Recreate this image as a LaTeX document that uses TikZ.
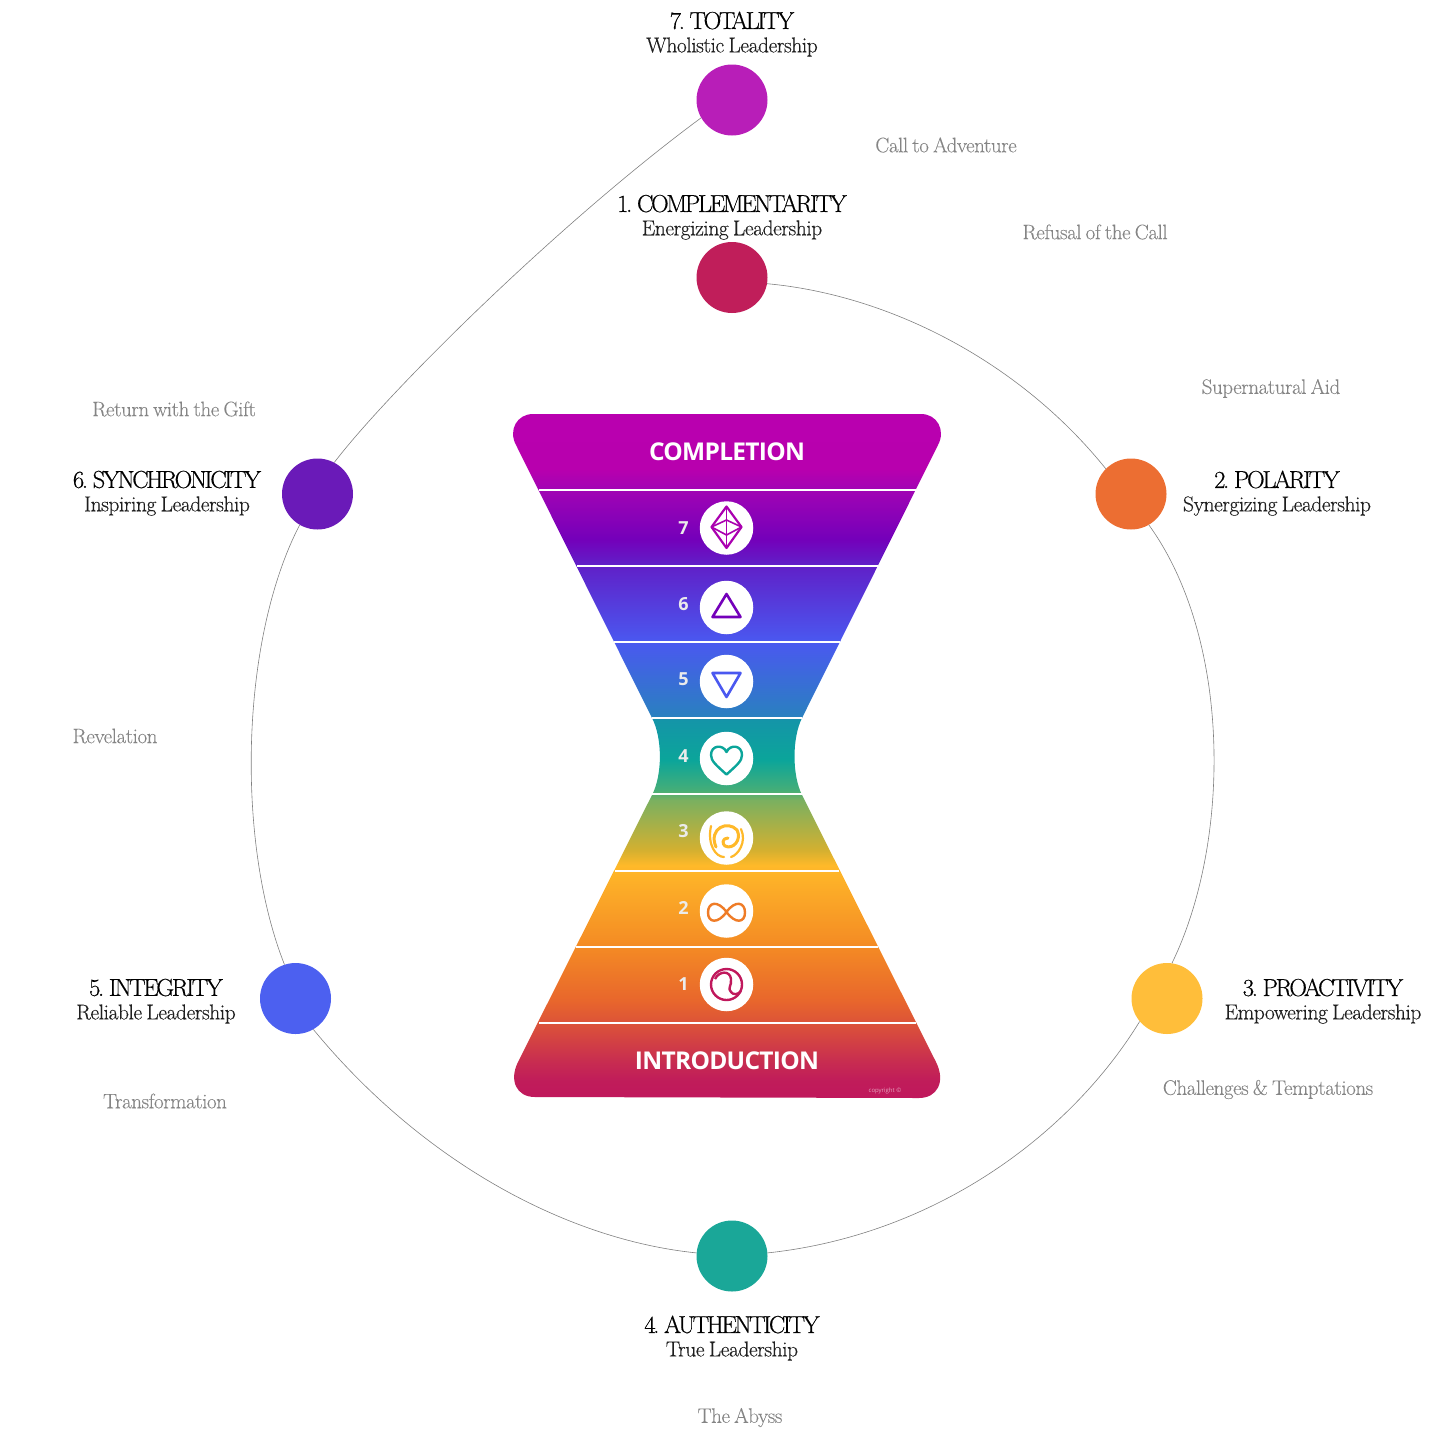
\documentclass[tikz,border=0pt]{standalone}
\usepackage{fontspec}
\setmainfont{Latin Modern Roman}
\newfontfamily\headfont[LetterSpace=-9.5,WordSpace=0.6,FakeBold=0.5]{lmroman17-regular.otf}
\newfontfamily\subfont[LetterSpace=-2.1,WordSpace=0.7,FakeBold=0.3]{lmroman17-regular.otf}
\newfontfamily\beatfont[LetterSpace=-2.1,WordSpace=0.7,FakeBold=0.1]{lmroman17-regular.otf}
\newfontfamily\opensans[LetterSpace=-2.9]{Open Sans}
\newfontfamily\numfont{Open Sans}
\definecolor{c25}{HTML}{C0185C}\definecolor{c26}{HTML}{C01C5A}\definecolor{c27}{HTML}{C82D50}
\definecolor{c30}{HTML}{DC5338}\definecolor{c32}{HTML}{E8662C}\definecolor{c36}{HTML}{F48B24}
\definecolor{c42}{HTML}{FFB929}\definecolor{c43}{HTML}{D4B030}\definecolor{c46}{HTML}{7AB060}
\definecolor{c47}{HTML}{45AE78}\definecolor{c49}{HTML}{0BA59A}\definecolor{c52}{HTML}{1495A8}
\definecolor{c53}{HTML}{2A80C0}\definecolor{c58}{HTML}{4A58F0}\definecolor{c64}{HTML}{6020C8}
\definecolor{c66}{HTML}{7400BA}\definecolor{c69}{HTML}{A204B4}\definecolor{c71}{HTML}{B800AE}
\definecolor{c75}{HTML}{B900AF}
\definecolor{st1}{HTML}{C01E5A}\definecolor{st2}{HTML}{EC6E32}\definecolor{st3}{HTML}{FFBE3A}
\definecolor{st4}{HTML}{1AA798}\definecolor{st5}{HTML}{4C60F0}\definecolor{st6}{HTML}{6A1AB8}
\definecolor{st7}{HTML}{B81EB8}
\pgfdeclareverticalshading{hgshade}{100bp}{
color(0bp)=(c25); color(25bp)=(c25); color(26.25bp)=(c26); color(27.72bp)=(c27);
color(30.5bp)=(c30); color(32.11bp)=(c32); color(36.15bp)=(c36); color(42.01bp)=(c42);
color(43.11bp)=(c43); color(46.78bp)=(c46); color(47.51bp)=(c47); color(49.71bp)=(c49);
color(52.64bp)=(c52); color(52.93bp)=(c53); color(58.36bp)=(c58); color(63.93bp)=(c64);
color(65.84bp)=(c66); color(69.5bp)=(c69); color(70.97bp)=(c71); color(75bp)=(c75); color(100bp)=(c75)}
\tikzset{
 stage/.style={circle,minimum size=71pt,inner sep=0pt,fill=#1},
 head/.style={font=\headfont\fontsize{24.5}{24.5}\selectfont,text=black},
 sub/.style={font=\subfont\fontsize{21.5}{21.5}\selectfont,text=black!88},
 beat/.style={font=\beatfont\fontsize{21}{21}\selectfont,text=black!48},
 link/.style={draw=black!50,line width=0.6pt},
 disc/.style={circle,minimum size=53.5pt,inner sep=0pt,fill=white},
 num/.style={font=\numfont\bfseries\fontsize{18}{18}\selectfont,text=white!92!black},
 band/.style={font=\opensans\bfseries\fontsize{24.5}{24.5}\selectfont,text=white},
 ico/.style={line width=2.2pt,line join=round,draw=#1},
}
\begin{document}
\begin{tikzpicture}[x=1pt,y=-1pt]
\useasboundingbox (0,0) rectangle (1447,1440);
% hourglass
\path[shading=hgshade] (533,414) -- (921,414)
 .. controls (937,414) and (946,430) .. (938,445) -- (802,718)
 .. controls (792,738) and (792,775) .. (802,795)
 -- (936,1062) .. controls (946,1082) and (937,1098) .. (919,1098)
 -- (535,1097) .. controls (516,1097) and (509,1080) .. (518,1062)
 -- (652,795) .. controls (662.5,775) and (662.5,738) .. (652,718)
 -- (516,445) .. controls (508,430) and (517,414) .. (533,414) -- cycle;
\foreach \yy/\xa/\xb in {490/539/916,566/577/878,642/614/840,718/652/802,794/652/802,871/615/839,947/576/878,1023/539/916}
  \draw[white,line width=2pt] (\xa,\yy) -- (\xb,\yy);
\node[band] (completion) at (727,452) {COMPLETION};
\node[band] (introduction) at (727,1061) {INTRODUCTION};
\node[font=\numfont\fontsize{6}{6}\selectfont,text=white!60!c25] (copy) at (885,1090.5) {copyright ©};
% discs
\node[disc] (d7) at (726.5,528) {};
\node[disc] (d6) at (726.5,607.5) {};
\node[disc] (d5) at (726.5,681.5) {};
\node[disc] (d4) at (726.5,758.5) {};
\node[disc] (d3) at (726.5,838) {};
\node[disc] (d2) at (726.5,911) {};
\node[disc] (d1) at (726.5,984.5) {};
\foreach \n/\yy in {7/528,6/604,5/679,4/756,3/831,2/908,1/984}
  \node[num] (n\n) at (683.5,\yy) {\n};
% icons
\begin{scope}[ico=c71!80!c66]
 \draw (726.5,506.5) -- (741.5,527) -- (726.5,548) -- (711.5,527) -- cycle;
 \draw[line width=1.6pt] (726.5,506.5) -- (726.5,548);
 \draw[line width=1.6pt] (711.5,527) -- (726.5,520) -- (741.5,527) -- (726.5,535) -- cycle;
\end{scope}
\draw[ico=c66,line width=2.6pt] (726.5,594) -- (740.5,617) -- (712.5,617) -- cycle;
\draw[ico=c58,line width=2.6pt] (712.5,673) -- (740.5,673) -- (726.5,697) -- cycle;
\draw[ico=c49,line width=2.4pt] (726.5,774.5) .. controls (716,765) and (711,761) .. (711,755)
  .. controls (711,745) and (723,744) .. (726.5,752)
  .. controls (730,744) and (742,745) .. (742,755)
  .. controls (742,761) and (737,765) .. (726.5,774.5) -- cycle;
\begin{scope}[ico=c42,line width=2.2pt,line cap=round]
 \draw (711,826) .. controls (707,845) and (716,857) .. (724,857);
 \draw (741,829) .. controls (747,842) and (738,855) .. (731,857);
 \draw[line width=3pt] (716,847) .. controls (708,828) and (728,820) .. (737,830) .. controls (742,840) and (733,850) .. (725,846) .. controls (722,844) and (722,838) .. (728,838);
\end{scope}
\draw[ico=c36!60!c32,line width=2.4pt] (726.5,912) .. controls (718,900) and (708,902) .. (708,912.5)
  .. controls (708,923) and (718,924) .. (726.5,912)
  .. controls (735,900) and (745,902) .. (745,912.5)
  .. controls (745,923) and (735,924) .. (726.5,912) -- cycle;
\begin{scope}[ico=c25,line width=2.4pt]
 \draw (726.5,984.5) circle[radius=15.5];
 \draw (715,979) .. controls (719,971) and (730,970) .. (731,979) .. controls (732,986) and (727,988) .. (731,992) .. controls (733,995) and (738,995) .. (741,991);
\end{scope}
% stages
\node[stage=st7] (s7) at (732,100) {};
\node[stage=st1] (s1) at (732,277.5) {};
\node[stage=st2] (s2) at (1131,494) {};
\node[stage=st3] (s3) at (1167,998.5) {};
\node[stage=st4] (s4) at (732,1256) {};
\node[stage=st5] (s5) at (295.5,998.5) {};
\node[stage=st6] (s6) at (317.5,494) {};
% links
\draw[link] (s1.-10) .. controls (890,295) and (1020,362) .. (s2.135);
\draw[link] (s2.-60) .. controls (1232,640) and (1231,842) .. (s3.82);
\draw[link] (s3.220) .. controls (1070,1135) and (935,1235) .. (s4.5);
\draw[link] (s4.175) .. controls (570,1240) and (425,1165) .. (s5.-60);
\draw[link] (s5.108) .. controls (236,842) and (240,640) .. (s6.240);
\draw[link] (s6.62) .. controls (388,392) and (560,222) .. (s7.210);
% labels
\node[head] (h7) at (732,20.5) {7. TOTALITY};
\node[sub] (l7) at (732,47) {Wholistic Leadership};
\node[head] (h1) at (732,203.5) {1. COMPLEMENTARITY};
\node[sub] (l1) at (732,230) {Energizing Leadership};
\node[head] (h2) at (1277,479.5) {2. POLARITY};
\node[sub] (l2) at (1277,506) {Synergizing Leadership};
\node[head] (h3) at (1323,987.5) {3. PROACTIVITY};
\node[sub] (l3) at (1323,1014) {Empowering Leadership};
\node[head] (h4) at (732,1324.5) {4. AUTHENTICITY};
\node[sub] (l4) at (732,1351) {True Leadership};
\node[head] (h5) at (156,987.5) {5. INTEGRITY};
\node[sub] (l5) at (156,1014) {Reliable Leadership};
\node[head] (h6) at (167,479.5) {6. SYNCHRONICITY};
\node[sub] (l6) at (167,506) {Inspiring Leadership};
\node[beat] (b1) at (946,145) {Call to Adventure};
\node[beat] (b2) at (1095,232) {Refusal of the Call};
\node[beat] (b3) at (1271,388.5) {Supernatural Aid};
\node[beat] (b4) at (1268,1089.5) {Challenges \& Temptations};
\node[beat] (b5) at (740,1417.5) {The Abyss};
\node[beat] (b6) at (165,1101) {Transformation};
\node[beat] (b7) at (115,736) {Revelation};
\node[beat] (b8) at (174,409) {Return with the Gift};
\end{tikzpicture}
\end{document}
